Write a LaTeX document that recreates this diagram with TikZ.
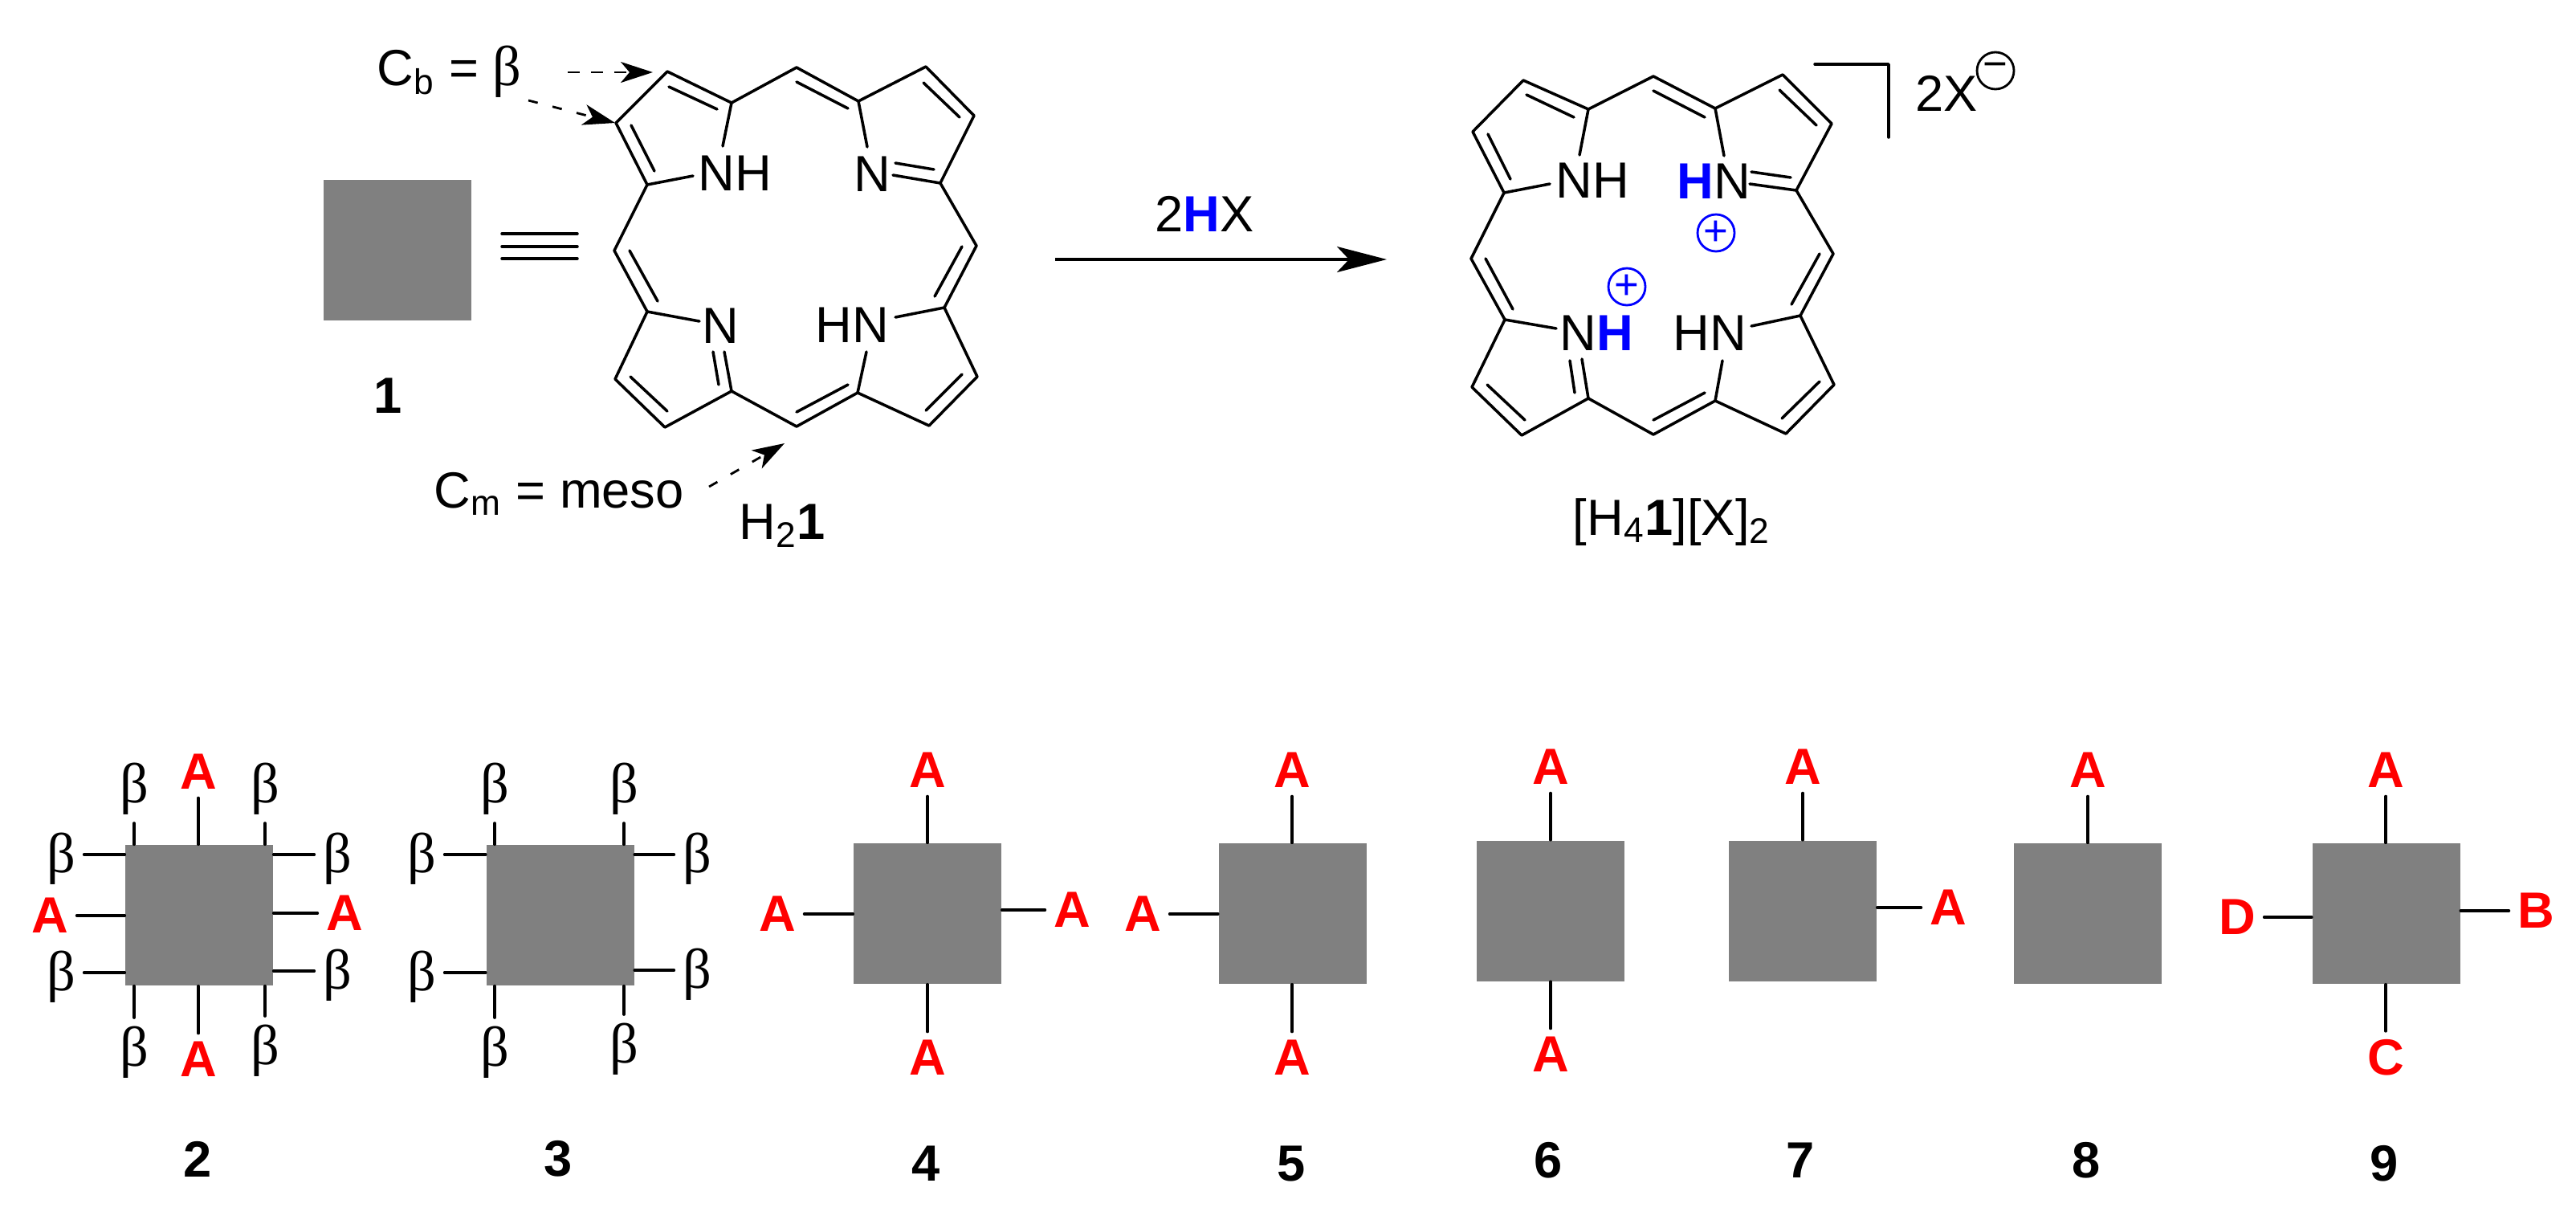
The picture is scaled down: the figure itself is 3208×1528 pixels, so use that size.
\documentclass[tikz,border=0pt]{standalone}
\usepackage{fontspec}
\setmainfont{Liberation Sans}
\newfontfamily\betafont{Liberation Serif}
\usetikzlibrary{arrows.meta}
\newcommand{\bbeta}{{\betafont\fontsize{20}{21}\selectfont β}}

\begin{document}
\begin{tikzpicture}[x=0.1mm,y=-0.1mm,font=\fontsize{18}{21}\selectfont,
  bond/.style={line width=1pt,line cap=round,line join=round},
  stub/.style={line width=1pt,line cap=round},
  darrow/.style={line width=0.8pt,dash pattern=on 1.5mm off 1.4mm,-{Stealth[length=4mm,width=2.6mm,inset=1.1mm]}},
  dotarrow/.style={darrow,dash pattern=on 1.2mm off 1.9mm},
  sqr/.style={fill=black!50,minimum width=18.4mm,minimum height=17.5mm,inner sep=0pt},
  lbl/.style={inner sep=1mm},
  sub/.style={lbl,text=red,font=\fontsize{18}{21}\selectfont\bfseries},
  bv/.style={lbl},
  bh/.style={lbl,text height=4.5mm,text depth=0pt},
  chg/.style={draw,circle,line width=0.8pt,minimum size=4.6mm,inner sep=0pt,font=\fontsize{15}{15}\selectfont},
  ]
  \useasboundingbox (0,0) rectangle (3208,1528);

  \coordinate(b1) at (831,89);%ring I
  \coordinate(b2) at (767,153);
  \coordinate(a1) at (806,230);
  \coordinate(a2) at (911,128);
  \coordinate(m1) at (992,84);%meso top
  \coordinate(a3) at (1069,126);%ring II
  \coordinate(b3) at (1153,83);
  \coordinate(b4) at (1213,144);
  \coordinate(a4) at (1171,228);
  \coordinate(m2) at (1216,306);%meso right
  \coordinate(a5) at (1176,383);%ring III
  \coordinate(b5) at (1217,469);
  \coordinate(b6) at (1157,530);
  \coordinate(a6) at (1068,489);
  \coordinate(m3) at (992,531);%meso bottom
  \coordinate(a7) at (911,487);%ring IV
  \coordinate(b7) at (828,532);
  \coordinate(b8) at (766,472);
  \coordinate(a8) at (806,388);
  \coordinate(m4) at (765,312);%meso left
  \coordinate(n1a) at (900,182);%bond ends at the N labels
  \coordinate(n1b) at (863,219);
  \coordinate(n2a) at (1080,183);
  \coordinate(n2b) at (1112,218);
  \coordinate(n3a) at (1115,395);
  \coordinate(n3b) at (1079,438);
  \coordinate(n4a) at (902,438);
  \coordinate(n4b) at (871,400);
  \draw [bond] (n1a) -- (a2) -- (b1) -- (b2) -- (a1) -- (n1b);
  \draw [bond] (n2a) -- (a3) -- (b3) -- (b4) -- (a4) -- (n2b);
  \draw [bond] (n3a) -- (a5) -- (b5) -- (b6) -- (a6) -- (n3b);
  \draw [bond] (n4a) -- (a7) -- (b7) -- (b8) -- (a8) -- (n4b);
  \draw [bond] (a2) -- (m1) -- (a3);
  \draw [bond] (a4) -- (m2) -- (a5);
  \draw [bond] (a6) -- (m3) -- (a7);
  \draw [bond] (a8) -- (m4) -- (a1);
  %inner lines of the double bonds
  \coordinate(d1a) at (833,108); \coordinate(d1b) at (893,136);
  \coordinate(d2a) at (786,156); \coordinate(d2b) at (815,213);
  \coordinate(d3a) at (992,102); \coordinate(d3b) at (1056,135);
  \coordinate(d4a) at (1150,103); \coordinate(d4b) at (1195,146);
  \coordinate(d5a) at (1115,203); \coordinate(d5b) at (1163,211);
  \coordinate(d6a) at (1198,307); \coordinate(d6b) at (1164,369);
  \coordinate(d7a) at (1198,466); \coordinate(d7b) at (1153,511);
  \coordinate(d8a) at (992,513); \coordinate(d8b) at (1056,479);
  \coordinate(d9a) at (831,512); \coordinate(d9b) at (785,469);
  \coordinate(d10a) at (888,438); \coordinate(d10b) at (895,479);
  \coordinate(d11a) at (784,312); \coordinate(d11b) at (819,375);
  \foreach \i in {1,...,11} \draw [bond] (d\i a) -- (d\i b);
  \node [lbl] (nh1) at (915,216) {NH};
  \node [lbl] (nn1) at (1086,217) {N};
  \node [lbl] (nn2) at (897,406) {N};
  \node [lbl] (nh2) at (1061,405) {HN};

  \node [sqr] (sq1) at (495,311) {};
  \coordinate(t1a) at (625,291); \coordinate(t1b) at (719,291);%the equivalence sign
  \coordinate(t2a) at (625,307); \coordinate(t2b) at (719,307);
  \coordinate(t3a) at (625,322); \coordinate(t3b) at (719,322);
  \draw [bond] (t1a) -- (t1b);
  \draw [bond] (t2a) -- (t2b);
  \draw [bond] (t3a) -- (t3b);
  \node [lbl] (n1) at (483,493) {\textbf{1}};
  \node [lbl] (h21) at (974,655) {H\textsubscript{2}\textbf{1}};

  \node [inner sep=0pt,anchor=base west] (cb) at (469,106) {C\textsubscript{b} = \bbeta};
  \node [inner sep=0pt,anchor=base west] (cm) at (540,632) {C\textsubscript{m} = meso};
  \coordinate(e1a) at (707,90); \coordinate(e1b) at (813,90);
  \coordinate(e2a) at (658,125); \coordinate(e2b) at (766,153);
  \coordinate(e3a) at (883,606); \coordinate(e3b) at (977,552);
  \draw [darrow] (e1a) -- (e1b);
  \draw [dotarrow] (e2a) -- (e2b);
  \draw [dotarrow] (e3a) -- (e3b);

  \coordinate(r1) at (1314,323);%the reaction arrow
  \coordinate(r2) at (1727,323);
  \draw [line width=1pt,-{Stealth[length=6.2mm,width=3.2mm,inset=1.5mm]}] (r1) -- (r2);
  \node [lbl] (hx) at (1500,266) {2\textcolor{blue}{\textbf{H}}X};

  \coordinate(qb1) at (1897,100);%protonated macrocycle
  \coordinate(qb2) at (1834,164);
  \coordinate(qa1) at (1873,240);
  \coordinate(qa2) at (1978,136);
  \coordinate(qm1) at (2059,95);
  \coordinate(qa3) at (2136,135);
  \coordinate(qb3) at (2220,93);
  \coordinate(qb4) at (2281,154);
  \coordinate(qa4) at (2237,237);
  \coordinate(qm2) at (2283,316);
  \coordinate(qa5) at (2242,393);
  \coordinate(qb5) at (2284,479);
  \coordinate(qb6) at (2224,540);
  \coordinate(qa6) at (2136,499);
  \coordinate(qm3) at (2059,541);
  \coordinate(qa7) at (1978,496);
  \coordinate(qb7) at (1895,542);
  \coordinate(qb8) at (1833,482);
  \coordinate(qa8) at (1874,398);
  \coordinate(qm4) at (1832,322);
  \coordinate(qn1a) at (1967,193);
  \coordinate(qn1b) at (1930,229);
  \coordinate(qn2a) at (2147,194);
  \coordinate(qn2b) at (2179,229);
  \coordinate(qn3a) at (2181,406);
  \coordinate(qn3b) at (2145,449);
  \coordinate(qn4a) at (1970,447);
  \coordinate(qn4b) at (1938,409);
  \draw [bond] (qn1a) -- (qa2) -- (qb1) -- (qb2) -- (qa1) -- (qn1b);
  \draw [bond] (qn2a) -- (qa3) -- (qb3) -- (qb4) -- (qa4) -- (qn2b);
  \draw [bond] (qn3a) -- (qa5) -- (qb5) -- (qb6) -- (qa6) -- (qn3b);
  \draw [bond] (qn4a) -- (qa7) -- (qb7) -- (qb8) -- (qa8) -- (qn4b);
  \draw [bond] (qa2) -- (qm1) -- (qa3);
  \draw [bond] (qa4) -- (qm2) -- (qa5);
  \draw [bond] (qa6) -- (qm3) -- (qa7);
  \draw [bond] (qa8) -- (qm4) -- (qa1);
  \coordinate(qd1a) at (1901,118); \coordinate(qd1b) at (1960,146);
  \coordinate(qd2a) at (1853,167); \coordinate(qd2b) at (1881,223);
  \coordinate(qd3a) at (2059,113); \coordinate(qd3b) at (2123,146);
  \coordinate(qd4a) at (2216,112); \coordinate(qd4b) at (2262,156);
  \coordinate(qd5a) at (2181,214); \coordinate(qd5b) at (2230,221);
  \coordinate(qd6a) at (2266,316); \coordinate(qd6b) at (2231,379);
  \coordinate(qd7a) at (2266,475); \coordinate(qd7b) at (2219,521);
  \coordinate(qd8a) at (2059,523); \coordinate(qd8b) at (2123,489);
  \coordinate(qd9a) at (1899,523); \coordinate(qd9b) at (1852,479);
  \coordinate(qd10a) at (1955,449); \coordinate(qd10b) at (1961,489);
  \coordinate(qd11a) at (1850,322); \coordinate(qd11b) at (1884,385);
  \foreach \i in {1,...,11} \draw [bond] (qd\i a) -- (qd\i b);
  \node [lbl] (qnh1) at (1983,225) {NH};
  \node [lbl,inner sep=0pt,anchor=west] (qnh2) at (2088,226) {\textcolor{blue}{\textbf{H}}N};
  \node [lbl,inner sep=0pt,anchor=west] (qnh3) at (1942,415) {N\textcolor{blue}{\textbf{H}}};
  \node [lbl] (qnh4) at (2129,415) {HN};
  \node [chg,blue] (plus1) at (2137,290) {+};
  \node [chg,blue] (plus2) at (2026,357) {+};

  \coordinate(br1) at (2260,80);%bracket
  \coordinate(br2) at (2352,80);
  \coordinate(br3) at (2352,171);
  \draw [bond] (br1) -- (br2) -- (br3);
  \node [lbl] (x2) at (2424,116) {2X};
  \node [chg] (minus) at (2485,88) {−};
  \node [lbl] (h41) at (2082,650) {[H\textsubscript{4}\textbf{1}][X]\textsubscript{2}};

  %compound 2
  \node [sqr] (sq2) at (248,1139.5) {};
  \node [bv] (b2n1) at (167,982) {\bbeta};
  \node [bv] (b2n2) at (330,982) {\bbeta};
  \node [bv] (b2s1) at (167,1310) {\bbeta};
  \node [bv] (b2s2) at (330,1308) {\bbeta};
  \node [bh] (b2w1) at (76,1064) {\bbeta};
  \node [bh] (b2w2) at (76,1211) {\bbeta};
  \node [bh] (b2e1) at (420,1064) {\bbeta};
  \node [bh] (b2e2) at (420,1209) {\bbeta};
  \node [sub] (a2n) at (247,961) {A};
  \node [sub] (a2s) at (247,1319) {A};
  \node [sub] (a2w) at (62,1140) {A};
  \node [sub] (a2e) at (429,1137) {A};
  \draw [stub] (b2n1) -- (b2n1 |- sq2.north);
  \draw [stub] (b2n2) -- (b2n2 |- sq2.north);
  \draw [stub] (b2s1) -- (b2s1 |- sq2.south);
  \draw [stub] (b2s2) -- (b2s2 |- sq2.south);
  \draw [stub] (b2w1) -- (b2w1 -| sq2.west);
  \draw [stub] (b2w2) -- (b2w2 -| sq2.west);
  \draw [stub] (b2e1) -- (b2e1 -| sq2.east);
  \draw [stub] (b2e2) -- (b2e2 -| sq2.east);
  \draw [stub] (a2n) -- (a2n |- sq2.north);
  \draw [stub] (a2s) -- (a2s |- sq2.south);
  \draw [stub] (a2w) -- (a2w -| sq2.west);
  \draw [stub] (a2e) -- (a2e -| sq2.east);
  \node [lbl] (n2) at (246,1443) {\textbf{2}};

  %compound 3
  \node [sqr] (sq3) at (697.5,1139.5) {};
  \node [bv] (b3n1) at (616,982) {\bbeta};
  \node [bv] (b3n2) at (777,982) {\bbeta};
  \node [bv] (b3s1) at (616,1310) {\bbeta};
  \node [bv] (b3s2) at (777,1306) {\bbeta};
  \node [bh] (b3w1) at (525,1064) {\bbeta};
  \node [bh] (b3w2) at (525,1211) {\bbeta};
  \node [bh] (b3e1) at (868,1064) {\bbeta};
  \node [bh] (b3e2) at (868,1208) {\bbeta};
  \draw [stub] (b3n1) -- (b3n1 |- sq3.north);
  \draw [stub] (b3n2) -- (b3n2 |- sq3.north);
  \draw [stub] (b3s1) -- (b3s1 |- sq3.south);
  \draw [stub] (b3s2) -- (b3s2 |- sq3.south);
  \draw [stub] (b3w1) -- (b3w1 -| sq3.west);
  \draw [stub] (b3w2) -- (b3w2 -| sq3.west);
  \draw [stub] (b3e1) -- (b3e1 -| sq3.east);
  \draw [stub] (b3e2) -- (b3e2 -| sq3.east);
  \node [lbl] (n3) at (695,1443) {\textbf{3}};

  %compound 4
  \node [sqr] (sq4) at (1155,1137.5) {};
  \node [sub] (a4n) at (1155,959) {A};
  \node [sub] (a4s) at (1155,1317) {A};
  \node [sub] (a4w) at (968,1138) {A};
  \node [sub] (a4e) at (1335,1133) {A};
  \draw [stub] (a4n) -- (a4n |- sq4.north);
  \draw [stub] (a4s) -- (a4s |- sq4.south);
  \draw [stub] (a4w) -- (a4w -| sq4.west);
  \draw [stub] (a4e) -- (a4e -| sq4.east);
  \node [lbl] (n4) at (1153,1449) {\textbf{4}};

  %compound 5
  \node [sqr] (sq5) at (1609.5,1137.5) {};
  \node [sub] (a5n) at (1609,959) {A};
  \node [sub] (a5s) at (1609,1317) {A};
  \node [sub] (a5w) at (1423,1138) {A};
  \draw [stub] (a5n) -- (a5n |- sq5.north);
  \draw [stub] (a5s) -- (a5s |- sq5.south);
  \draw [stub] (a5w) -- (a5w -| sq5.west);
  \node [lbl] (n5) at (1608,1449) {\textbf{5}};

  %compound 6
  \node [sqr] (sq6) at (1931,1134) {};
  \node [sub] (a6n) at (1931,955) {A};
  \node [sub] (a6s) at (1931,1313) {A};
  \draw [stub] (a6n) -- (a6n |- sq6.north);
  \draw [stub] (a6s) -- (a6s |- sq6.south);
  \node [lbl] (n6) at (1928,1445) {\textbf{6}};

  %compound 7
  \node [sqr] (sq7) at (2245,1134) {};
  \node [sub] (a7n) at (2245,955) {A};
  \node [sub] (a7e) at (2426,1130) {A};
  \draw [stub] (a7n) -- (a7n |- sq7.north);
  \draw [stub] (a7e) -- (a7e -| sq7.east);
  \node [lbl] (n7) at (2242,1445) {\textbf{7}};

  %compound 8
  \node [sqr] (sq8) at (2600,1137.5) {};
  \node [sub] (a8n) at (2600,959) {A};
  \draw [stub] (a8n) -- (a8n |- sq8.north);
  \node [lbl] (n8) at (2598,1445) {\textbf{8}};

  %compound 9
  \node [sqr] (sq9) at (2971.5,1137.5) {};
  \node [sub] (a9n) at (2971,959) {A};
  \node [sub] (c9s) at (2971,1317) {C};
  \node [sub] (d9w) at (2786,1142) {D};
  \node [sub] (b9e) at (3158,1134) {B};
  \draw [stub] (a9n) -- (a9n |- sq9.north);
  \draw [stub] (c9s) -- (c9s |- sq9.south);
  \draw [stub] (d9w) -- (d9w -| sq9.west);
  \draw [stub] (b9e) -- (b9e -| sq9.east);
  \node [lbl] (n9) at (2969,1449) {\textbf{9}};
\end{tikzpicture}
\end{document}
